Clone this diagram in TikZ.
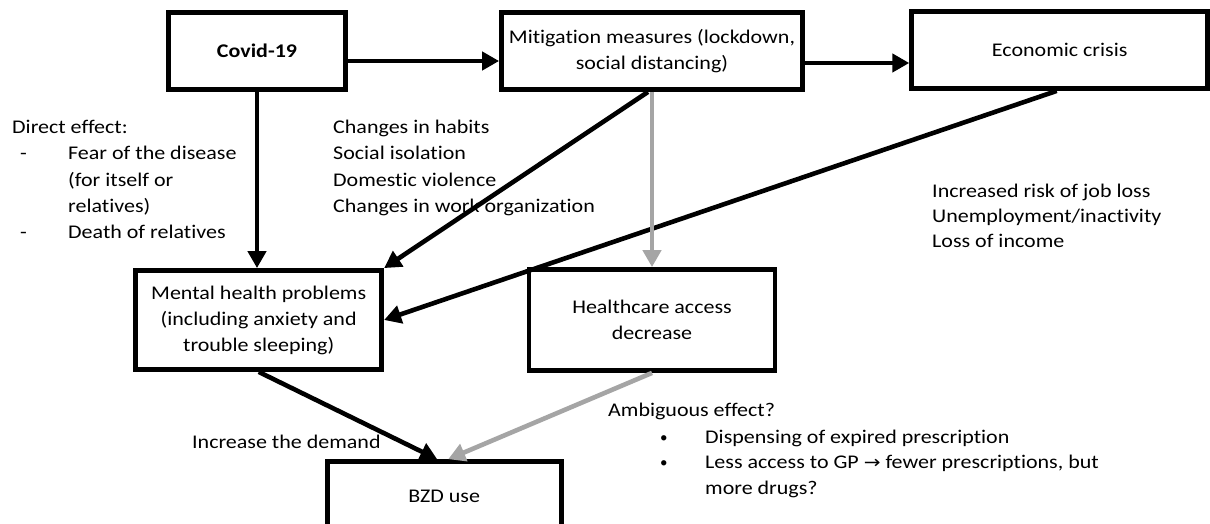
\documentclass[tikz,border=0pt]{standalone}
\usepackage{fontspec}
\setmainfont{Carlito}[Ligatures={NoCommon}]
\newfontfamily\symfont{DejaVu Sans}
\usepackage{graphicx}
\usetikzlibrary{arrows.meta}
\newcommand{\sq}[1]{\scalebox{1}[0.88]{#1}}
\definecolor{arrgray}{RGB}{165,165,165}
\begin{document}
\begin{tikzpicture}[x=1pt,y=-1pt,
  box/.style={draw, line width=4.8pt, inner sep=0pt, align=center, font=\fontsize{22}{26}\selectfont},
  txt/.style={inner sep=0pt, anchor=base west, font=\fontsize{22}{26}\selectfont},
  arr/.style={line width=4.6pt, -{Triangle[length=17pt,width=18pt]}},
  garr/.style={arr, draw=arrgray}]
\useasboundingbox (0,0) rectangle (1210,524);
\clip (0,0) rectangle (1210,524);
\fill[white] (0,0) rectangle (1210,524);
% boxes
\node[box, minimum width=177.6pt, minimum height=77pt] (covid) at (257,51) {\sq{\bfseries Covid-19}};
\node[box, minimum width=301pt, minimum height=77pt] (mitig) at (652,51) {\sq{Mitigation measures (lockdown,}\\\sq{social distancing)}};
\node[box, minimum width=296pt, minimum height=77pt] (econ) at (1059.7,50) {\sq{Economic crisis}};
\node[box, minimum width=246pt, minimum height=99pt] (mental) at (258.7,320) {\sq{Mental health problems}\\\sq{(including anxiety and}\\\sq{trouble sleeping)}};
\node[box, minimum width=246pt, minimum height=101pt] (health) at (652,320) {\sq{Healthcare access}\\\sq{decrease}};
\node[box, minimum width=234pt, minimum height=70pt] (bzd) at (444.2,496.6) {\sq{BZD use}};
% free texts
\node[txt] (de0) at (12,134) {\sq{Direct effect:}};
\node[txt] (de1d) at (20,160) {\sq{-}};
\node[txt] (de1) at (68,160) {\sq{Fear of the disease}};
\node[txt] (de2) at (68,186) {\sq{(for itself or}};
\node[txt] (de3) at (68,212) {\sq{relatives)}};
\node[txt] (de4d) at (20,238) {\sq{-}};
\node[txt] (de4) at (68,238) {\sq{Death of relatives}};
\node[txt] (ch1) at (333,134) {\sq{Changes in habits}};
\node[txt] (ch2) at (333,160) {\sq{Social isolation}};
\node[txt] (ch3) at (333,186) {\sq{Domestic violence}};
\node[txt] (ch4) at (333,212) {\sq{Changes in work organization}};
\node[txt] (ec1) at (932,197) {\sq{Increased risk of job loss}};
\node[txt] (ec2) at (932,222) {\sq{Unemployment/inactivity}};
\node[txt] (ec3) at (932,247) {\sq{Loss of income}};
\node[txt] (dem) at (192,448) {\sq{Increase the demand}};
\node[txt] (amb) at (608,416) {\sq{Ambiguous effect?}};
\node[txt] (b1) at (660,442) {\fontsize{15}{26}\selectfont •};
\node[txt] (a1) at (705,443) {\sq{Dispensing of expired prescription}};
\node[txt] (b2) at (660,467) {\fontsize{15}{26}\selectfont •};
\node[txt] (a2) at (705,468) {\sq{Less access to GP {\fontsize{20}{26}\symfont →} fewer prescriptions, but}};
\node[txt] (a3) at (705,494) {\sq{more drugs?}};
% connectors
\draw[arr] ([yshift=-10pt]covid.east) -- ([yshift=-10pt]covid.east -| mitig.west);
\draw[arr] ([yshift=-12pt]mitig.east) -- ([yshift=-12pt]mitig.east -| econ.west);
\draw[arr] (covid.south) -- (covid.south |- mental.north);
\draw[arr] ([xshift=-4pt]mitig.south) -- (mental.north east);
\draw[arr] ([xshift=-3pt]econ.south) -- (mental.east);
\draw[arr] (mental.south) -- ([xshift=-7pt]bzd.north);
\draw[garr] (health.south) -- ([xshift=4pt]bzd.north);
\draw[garr] (mitig.south) -- (mitig.south |- health.north);
\end{tikzpicture}
\end{document}
